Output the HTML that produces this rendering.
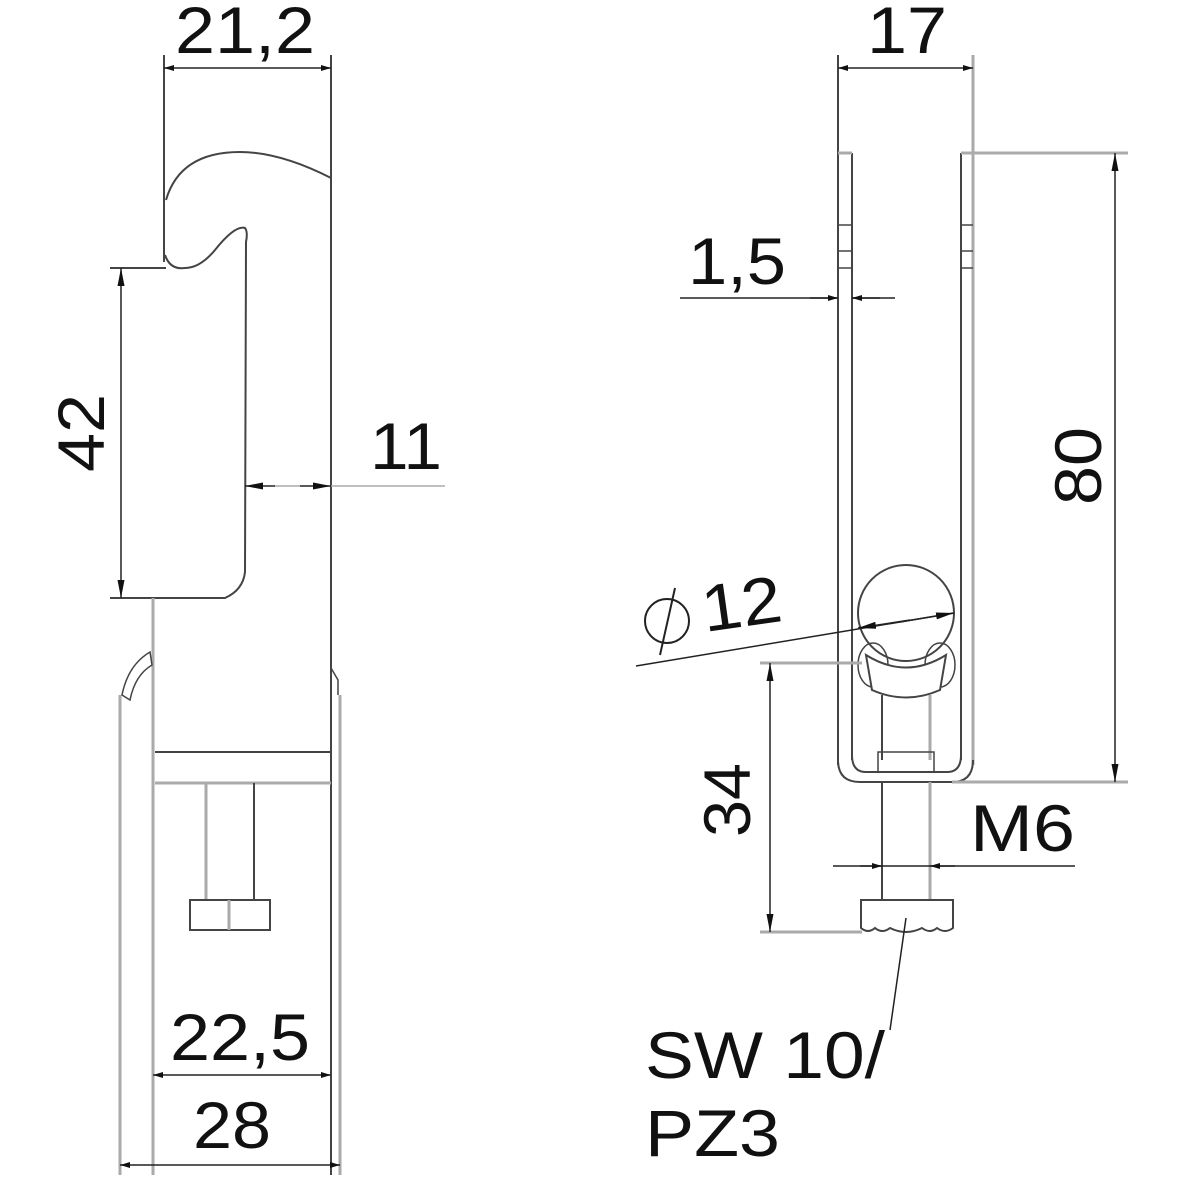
<!DOCTYPE html>
<html><head><style>html,body{margin:0;padding:0;background:#fff}svg{display:block}</style></head><body>
<svg width="1200" height="1200" viewBox="0 0 1200 1200" xmlns="http://www.w3.org/2000/svg" font-family="Liberation Sans, sans-serif">
<defs>
<marker id="a" viewBox="0 0 10 6" refX="10" refY="3" markerWidth="10" markerHeight="6" markerUnits="userSpaceOnUse" orient="auto-start-reverse"><path d="M0,0 L10,3 L0,6 Z" fill="#111"/></marker>
<marker id="b" viewBox="0 0 18 7" refX="18" refY="3.5" markerWidth="18" markerHeight="7" markerUnits="userSpaceOnUse" orient="auto-start-reverse"><path d="M0,0 L18,3.5 L0,7 Z" fill="#111"/></marker>
</defs>
<g stroke="#444" stroke-width="2" fill="none">
<line x1="164" y1="55" x2="164" y2="262"/>
<line x1="331" y1="55" x2="331" y2="1175"/>
<path d="M331,178 Q280,152 240,152 Q180,152 166,200 M165,255 Q170,270 185,268 Q200,268 215,250 Q235,225 245,228 Q248,232 246,242 L245,572 Q243,590 225,598 L110,598"/>
<line x1="110" y1="268" x2="166" y2="268"/>
<line x1="153" y1="598" x2="153" y2="1175" stroke="#aaa" stroke-width="3"/>
<line x1="120" y1="695" x2="120" y2="1175" stroke="#aaa" stroke-width="3"/>
<line x1="340" y1="695" x2="340" y2="1175" stroke="#aaa" stroke-width="3"/>
<path d="M122,695 Q128,665 150,652 L152,665 Q135,675 130,700 Z" stroke-width="1.5"/>
<path d="M331,668 L338,680 L338,695" stroke-width="1.5"/>
<line x1="155" y1="752" x2="331" y2="752"/>
<line x1="155" y1="783" x2="331" y2="783" stroke="#aaa" stroke-width="3"/>
<line x1="206" y1="783" x2="206" y2="900" stroke="#aaa" stroke-width="3"/>
<line x1="254" y1="783" x2="254" y2="900"/>
<rect x="190" y="900" width="80" height="30"/>
<line x1="229" y1="900" x2="229" y2="930" stroke="#aaa" stroke-width="3"/>
<g stroke="#222" stroke-width="1.5">
<line x1="164" y1="68" x2="331" y2="68" marker-start="url(#a)" marker-end="url(#a)"/>
<line x1="121" y1="268" x2="121" y2="598" marker-start="url(#b)" marker-end="url(#b)"/>
<line x1="245" y1="486" x2="275" y2="486" marker-start="url(#b)"/>
<line x1="275" y1="486" x2="300" y2="486" stroke="#aaa"/>
<line x1="300" y1="486" x2="331" y2="486" marker-end="url(#b)"/>
<line x1="331" y1="486" x2="445" y2="486" stroke="#aaa"/>
<line x1="153" y1="1075" x2="331" y2="1075" marker-start="url(#a)" marker-end="url(#a)"/>
<line x1="120" y1="1165" x2="340" y2="1165" marker-start="url(#a)" marker-end="url(#a)"/>
</g>
<line x1="838" y1="55" x2="838" y2="765"/>
<line x1="973" y1="55" x2="973" y2="765" stroke="#aaa" stroke-width="3"/>
<line x1="852" y1="153" x2="852" y2="760"/>
<line x1="961" y1="153" x2="961" y2="760"/>
<line x1="838" y1="153" x2="852" y2="153" stroke="#aaa" stroke-width="3"/>
<line x1="961" y1="153" x2="1128" y2="153" stroke="#aaa" stroke-width="3"/>
<g stroke-width="1.5"><line x1="838" y1="225" x2="852" y2="225"/><line x1="838" y1="251" x2="852" y2="251"/><line x1="838" y1="268" x2="852" y2="268"/><line x1="961" y1="225" x2="973" y2="225"/><line x1="961" y1="251" x2="973" y2="251"/><line x1="961" y1="268" x2="973" y2="268"/></g>
<path d="M838,760 Q838,782 860,782 L952,782 Q973,782 973,760"/>
<path d="M852,755 Q852,772 866,772 L947,772 Q961,772 961,755"/>
<line x1="952" y1="782" x2="1128" y2="782" stroke="#aaa" stroke-width="3"/>
<circle cx="906" cy="613" r="48"/>
<ellipse cx="873" cy="665" rx="15" ry="22" stroke-width="1.5"/>
<ellipse cx="940" cy="665" rx="15" ry="22" stroke-width="1.5"/>
<path d="M866,655 Q906,680 946,655 L940,690 Q906,705 872,690 Z" fill="#fff"/>
<line x1="882" y1="695" x2="882" y2="760"/>
<line x1="930" y1="695" x2="930" y2="760" stroke="#aaa" stroke-width="3"/>
<rect x="878" y="752" width="56" height="20" stroke-width="1.5"/>
<line x1="882" y1="782" x2="882" y2="900"/>
<line x1="930" y1="782" x2="930" y2="900" stroke="#aaa" stroke-width="3"/>
<path d="M861,900 L953,900 L953,928 Q945,934 937,928 Q930,934 922,928 Q906,936 890,928 Q882,934 875,928 Q868,934 861,928 Z"/>
<g stroke="#222" stroke-width="1.5">
<line x1="838" y1="68" x2="973" y2="68" marker-start="url(#a)" marker-end="url(#a)"/>
<line x1="1115" y1="153" x2="1115" y2="782" marker-start="url(#b)" marker-end="url(#b)"/>
<line x1="680" y1="298" x2="838" y2="298"/>
<line x1="810" y1="298" x2="838" y2="298" marker-end="url(#a)"/>
<line x1="852" y1="298" x2="895" y2="298"/>
<line x1="880" y1="298" x2="852" y2="298" marker-end="url(#a)"/>
<line x1="636" y1="666" x2="954" y2="613"/>
<line x1="900" y1="622" x2="954" y2="613" marker-end="url(#b)"/>
<line x1="910" y1="620" x2="858" y2="628" marker-end="url(#b)"/>
<line x1="760" y1="663" x2="862" y2="663" stroke="#aaa" stroke-width="3"/>
<line x1="760" y1="932" x2="862" y2="932" stroke="#aaa" stroke-width="3"/>
<line x1="770" y1="663" x2="770" y2="932" marker-start="url(#b)" marker-end="url(#b)"/>
<line x1="833" y1="866" x2="1075" y2="866"/>
<line x1="860" y1="866" x2="882" y2="866" marker-end="url(#a)"/>
<line x1="955" y1="866" x2="930" y2="866" marker-end="url(#a)"/>
<line x1="906" y1="918" x2="890" y2="1030"/>
</g>
<circle cx="667" cy="621" r="22" stroke="#222" stroke-width="2"/>
<line x1="675" y1="588" x2="660" y2="655" stroke="#222" stroke-width="2"/>
</g>
<g fill="#111" font-size="66">
<text x="175" y="53" textLength="140" lengthAdjust="spacingAndGlyphs">21,2</text>
<text x="867" y="53" textLength="80" lengthAdjust="spacingAndGlyphs">17</text>
<text x="370" y="469" textLength="72" lengthAdjust="spacingAndGlyphs">11</text>
<text transform="translate(104,472) rotate(-90)" textLength="78" lengthAdjust="spacingAndGlyphs">42</text>
<text x="170" y="1060" textLength="140" lengthAdjust="spacingAndGlyphs">22,5</text>
<text x="193" y="1148" textLength="78" lengthAdjust="spacingAndGlyphs">28</text>
<text x="688" y="284" textLength="98" lengthAdjust="spacingAndGlyphs">1,5</text>
<text transform="translate(1101,505) rotate(-90)" textLength="78" lengthAdjust="spacingAndGlyphs">80</text>
<text transform="translate(705,632) rotate(-8)" textLength="80" lengthAdjust="spacingAndGlyphs">12</text>
<text transform="translate(750,837) rotate(-90)" textLength="74" lengthAdjust="spacingAndGlyphs">34</text>
<text x="970" y="851" textLength="105" lengthAdjust="spacingAndGlyphs">M6</text>
<text x="645" y="1078" textLength="240" lengthAdjust="spacingAndGlyphs">SW 10/</text>
<text x="645" y="1156" textLength="135" lengthAdjust="spacingAndGlyphs">PZ3</text>
</g>
</svg>
</body></html>
